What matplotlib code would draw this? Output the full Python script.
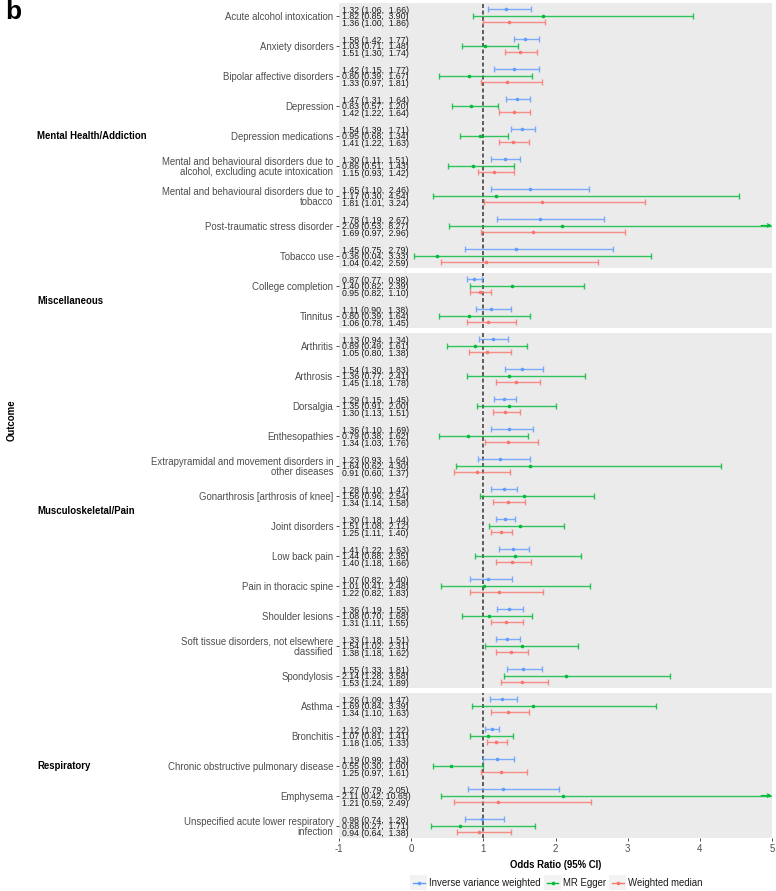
import matplotlib
matplotlib.use("Agg")
import matplotlib.pyplot as plt
from matplotlib.lines import Line2D
from matplotlib.patches import Rectangle
from matplotlib.legend_handler import HandlerLine2D

plt.rcParams['font.family'] = ['Liberation Sans', 'DejaVu Sans']

categories = ["Mental Health/Addiction", "Miscellaneous", "Musculoskeletal/Pain", "Respiratory"]
category_sizes = [9, 2, 12, 5]

outcomes = [
    "Acute alcohol intoxication",
    "Anxiety disorders",
    "Bipolar affective disorders",
    "Depression",
    "Depression medications",
    "Mental and behavioural disorders due to\nalcohol, excluding acute intoxication",
    "Mental and behavioural disorders due to\ntobacco",
    "Post-traumatic stress disorder",
    "Tobacco use",
    "College completion",
    "Tinnitus",
    "Arthritis",
    "Arthrosis",
    "Dorsalgia",
    "Enthesopathies",
    "Extrapyramidal and movement disorders in\nother diseases",
    "Gonarthrosis [arthrosis of knee]",
    "Joint disorders",
    "Low back pain",
    "Pain in thoracic spine",
    "Shoulder lesions",
    "Soft tissue disorders, not elsewhere\nclassified",
    "Spondylosis",
    "Asthma",
    "Bronchitis",
    "Chronic obstructive pulmonary disease",
    "Emphysema",
    "Unspecified acute lower respiratory\ninfection",
]

ivw_est = [1.32, 1.58, 1.42, 1.47, 1.54, 1.30, 1.65, 1.78, 1.45, 0.87, 1.11, 1.13, 1.54, 1.29, 1.36, 1.23, 1.28, 1.30, 1.41, 1.07, 1.36, 1.33, 1.55, 1.26, 1.12, 1.19, 1.27, 0.98]
ivw_lo  = [1.06, 1.42, 1.15, 1.31, 1.39, 1.11, 1.10, 1.19, 0.75, 0.77, 0.90, 0.94, 1.30, 1.15, 1.10, 0.93, 1.10, 1.18, 1.22, 0.82, 1.19, 1.18, 1.33, 1.09, 1.03, 0.99, 0.79, 0.74]
ivw_hi  = [1.66, 1.77, 1.77, 1.64, 1.71, 1.51, 2.46, 2.67, 2.79, 0.98, 1.38, 1.34, 1.83, 1.45, 1.69, 1.64, 1.47, 1.44, 1.63, 1.40, 1.55, 1.51, 1.81, 1.47, 1.22, 1.43, 2.05, 1.28]

egger_est = [1.82, 1.03, 0.80, 0.83, 0.95, 0.86, 1.17, 2.09, 0.36, 1.40, 0.80, 0.89, 1.36, 1.35, 0.79, 1.64, 1.56, 1.51, 1.44, 1.01, 1.08, 1.54, 2.14, 1.69, 1.07, 0.55, 2.11, 0.68]
egger_lo  = [0.85, 0.71, 0.39, 0.57, 0.68, 0.51, 0.30, 0.53, 0.04, 0.82, 0.39, 0.49, 0.77, 0.91, 0.38, 0.62, 0.96, 1.08, 0.88, 0.41, 0.70, 1.02, 1.28, 0.84, 0.81, 0.30, 0.42, 0.27]
egger_hi  = [3.90, 1.48, 1.67, 1.20, 1.34, 1.43, 4.54, 8.27, 3.33, 2.39, 1.64, 1.61, 2.41, 2.00, 1.62, 4.30, 2.54, 2.12, 2.35, 2.48, 1.68, 2.31, 3.58, 3.39, 1.41, 1.00, 10.65, 1.71]

wm_est = [1.36, 1.51, 1.33, 1.42, 1.41, 1.15, 1.81, 1.69, 1.04, 0.95, 1.06, 1.05, 1.45, 1.30, 1.34, 0.91, 1.34, 1.25, 1.40, 1.22, 1.31, 1.38, 1.53, 1.34, 1.18, 1.25, 1.21, 0.94]
wm_lo  = [1.00, 1.30, 0.97, 1.22, 1.22, 0.93, 1.01, 0.97, 0.42, 0.82, 0.78, 0.80, 1.18, 1.13, 1.03, 0.60, 1.14, 1.11, 1.18, 0.82, 1.11, 1.18, 1.24, 1.10, 1.05, 0.97, 0.59, 0.64]
wm_hi  = [1.86, 1.74, 1.81, 1.64, 1.63, 1.42, 3.24, 2.96, 2.59, 1.10, 1.45, 1.38, 1.78, 1.51, 1.76, 1.37, 1.58, 1.40, 1.66, 1.83, 1.55, 1.62, 1.89, 1.63, 1.33, 1.61, 2.49, 1.38]

methods = ["Inverse variance weighted", "MR Egger", "Weighted median"]
method_colors = ["#619CFF", "#00BA38", "#F8766D"]
x_ticks = [-1, 0, 1, 2, 3, 4, 5]

series = [(ivw_est, ivw_lo, ivw_hi), (egger_est, egger_lo, egger_hi), (wm_est, wm_lo, wm_hi)]
offsets = [-0.217, 0.0, 0.217]

W, H = 776, 891
fig = plt.figure(figsize=(W / 100, H / 100), dpi=100)

def fx(px):
    return px / W

def fy(py):
    return 1 - py / H

left_px, right_px = 339, 772
unit_px = 30.0
pad_u = 0.417
gap_px = 5
top_px = 3
XMIN, XMAX = -1, 5

start = 0
for ci, (cat, n) in enumerate(zip(categories, category_sizes)):
    h_px = (n - 1 + 2 * pad_u) * unit_px
    ax = fig.add_axes([fx(left_px), fy(top_px + h_px), (right_px - left_px) / W, h_px / H])
    ax.set_facecolor("#EBEBEB")
    for s in ax.spines.values():
        s.set_visible(False)
    ax.set_xlim(XMIN, XMAX)
    ax.set_ylim(n - 1 + pad_u, -pad_u)
    ax.axvline(1, color="#505050", lw=1.3, ls=(0, (2.2, 1.4)), zorder=1)

    for mi, ((est, lo, hi), off, col) in enumerate(zip(series, offsets, method_colors)):
        for k in range(n):
            idx = start + k
            y = k + off
            e, l, h = est[idx], lo[idx], hi[idx]
            hh = min(h, XMAX)
            ax.hlines(y, l, hh, color=col, lw=1.0, alpha=0.8, zorder=2)
            ax.plot([l], [y], marker="|", ms=4, mew=1.0, color=col, alpha=0.8, zorder=2)
            if h > XMAX:
                ax.annotate("", xy=(XMAX, y), xytext=(XMAX - 0.15, y),
                            arrowprops=dict(arrowstyle="->", color=col, lw=0.9,
                                            mutation_scale=6, shrinkA=0, shrinkB=0),
                            annotation_clip=False, zorder=2)
            else:
                ax.plot([hh], [y], marker="|", ms=4, mew=1.0, color=col, alpha=0.8, zorder=2)
            ax.plot([e], [y], marker="o", ms=2.6, mew=0, color=col, zorder=3)
            ax.text(-0.955, y, f"{e:.2f} ({l:.2f}, {h:5.2f})", fontsize=6.3,
                    ha="left", va="center_baseline", color="#1A1A1A", zorder=4)

    ax.set_yticks(range(n))
    ax.set_yticklabels(outcomes[start:start + n], fontsize=6.9, color="#4D4D4D",
                       linespacing=1.0)
    ax.tick_params(axis="y", length=2.5, width=0.6, color="#333333", pad=1.5)
    if ci == len(categories) - 1:
        ax.set_xticks(x_ticks)
        ax.set_xticklabels([str(t) for t in x_ticks], fontsize=6.9, color="#4D4D4D")
        ax.tick_params(axis="x", length=2.5, width=0.6, color="#333333", pad=1.5)
    else:
        ax.set_xticks([])

    mid_px = top_px + h_px / 2
    fig.text(fx(37), fy(mid_px), cat, fontsize=6.9, fontweight="bold",
             ha="left", va="center", color="black")
    top_px = top_px + h_px + gap_px
    start += n

# labels
fig.text(fx(12), fy(420), "Outcome", rotation=90, fontsize=6.9, fontweight="bold",
         ha="center", va="center")
fig.text(fx((left_px + right_px) / 2), fy(865), "Odds Ratio (95% CI)", fontsize=6.9,
         fontweight="bold", ha="center", va="center")
fig.text(fx(5), fy(0), "b", fontsize=19, fontweight="bold", ha="left", va="top")


class KeyHandler(HandlerLine2D):
    def create_artists(self, legend, orig_handle, xdescent, ydescent, width, height,
                       fontsize, trans):
        pad = 2.0
        bg = Rectangle((-xdescent - pad, -ydescent - pad - 1), width + 2 * pad, height + 2 * pad + 2,
                       facecolor="#F2F2F2", edgecolor="none", transform=trans)
        arts = super().create_artists(legend, orig_handle, xdescent, ydescent, width, height,
                                      fontsize, trans)
        return [bg] + list(arts)


handles = [Line2D([0], [0], color=c, lw=1.0, marker="o", ms=2.6, mew=0) for c in method_colors]
leg = fig.legend(handles, methods, loc="center", bbox_to_anchor=(fx(558), fy(883)),
                 ncol=3, frameon=False, fontsize=6.9, handlelength=1.2,
                 handletextpad=0.5, columnspacing=0.6, borderaxespad=0,
                 handler_map={Line2D: KeyHandler(numpoints=1)})
for t in leg.get_texts():
    t.set_color("#1A1A1A")

fig.savefig("out.png", dpi=100, facecolor="white")
